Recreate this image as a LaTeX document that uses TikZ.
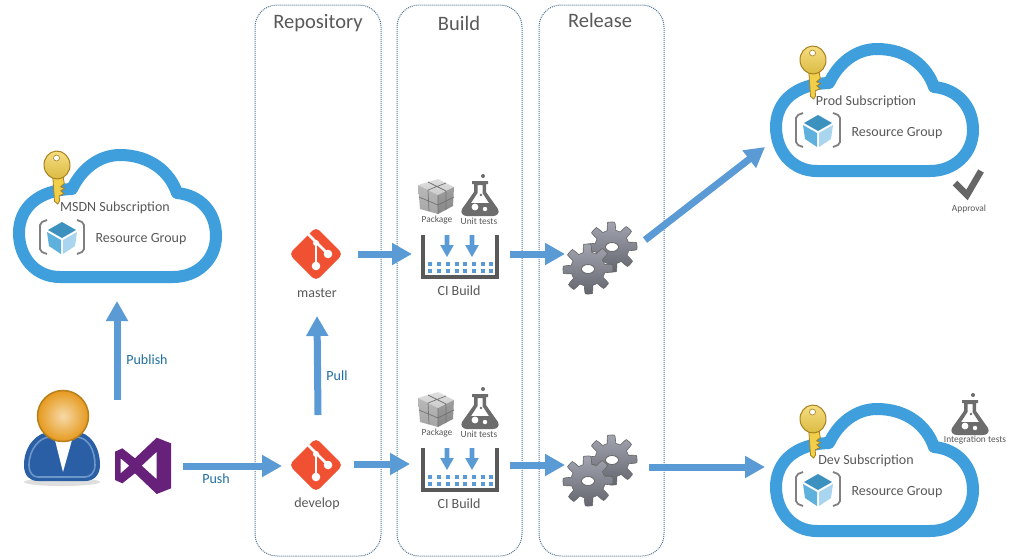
\documentclass[tikz,border=0pt]{standalone}
\usepackage{fontspec}
\setmainfont{Carlito}
\usetikzlibrary{arrows.meta}
\definecolor{flowblue}{HTML}{5B9BD5}
\definecolor{cloudblue}{HTML}{3F9FDC}
\definecolor{txtgray}{HTML}{595959}
\definecolor{lblblue}{HTML}{1F6F9F}
\definecolor{gitred}{HTML}{F05133}
\definecolor{vspurple}{HTML}{68217A}
\definecolor{panelline}{HTML}{4F7592}
\definecolor{gold}{HTML}{F2CF4A}
\definecolor{golddark}{HTML}{A8801E}
\definecolor{cubetop}{HTML}{3C91BF}
\definecolor{cubeleft}{HTML}{5DB1DC}
\definecolor{cuberight}{HTML}{A9D5EE}
\definecolor{suitdark}{HTML}{2A5FA5}
\definecolor{suitlight}{HTML}{6C97C8}
\definecolor{headhi}{HTML}{F6D9A8}
\definecolor{headlo}{HTML}{E69A1E}
\definecolor{headrim}{HTML}{B87F1A}
\definecolor{gearhi}{HTML}{A2A5B0}
\definecolor{gearlo}{HTML}{63656E}
\tikzset{
  flow/.style={draw=flowblue,line width=7pt,-{Triangle[length=20pt,width=21pt]}},
  anchorbox/.style={inner sep=0pt,outer sep=0pt,minimum width=#1},
  panel/.style={draw=panelline,densely dotted,line width=1pt,rounded corners=22pt},
  head/.style={font=\fontsize{20.5}{22}\selectfont,text=txtgray,yshift=-1.5pt},
  lbl/.style={font=\fontsize{14}{16}\selectfont,text=txtgray,yshift=-1.5pt},
  flowlbl/.style={font=\fontsize{14}{16}\selectfont,text=lblblue,yshift=-1pt},
  tiny/.style={font=\fontsize{9.4}{11}\selectfont,text=txtgray,yshift=-0.5pt},
  cloudp/.pic={
    \draw[cloudblue,line width=12pt,fill=white,line join=round]
      (60,277) .. controls (35,277) and (19,257) .. (19,233)
      .. controls (19,208) and (38,190) .. (72,189)
      .. controls (82,168) and (100,155) .. (120,155)
      .. controls (150,155) and (170,172) .. (177,193)
      .. controls (200,195) and (216,212) .. (216,236)
      .. controls (216,260) and (197,277) .. (173,277) -- cycle;
  },
  keyp/.pic={
    \begin{scope}[rotate=4]
    \fill[gold,draw=golddark,line width=0.8pt]
      (-5,10) -- (-5,36) -- (-2,39) -- (0,36) -- (0,31) -- (5,29) -- (2,26) -- (6,24) -- (2,22) -- (6,19) -- (5,10) -- cycle;
    \shade[top color=gold!70!white,bottom color=gold!90!black,draw=golddark,line width=1pt]
      (0,0) ellipse (13 and 14);
    \fill[white,draw=golddark,line width=0.6pt] (0,-7) circle (3);
    \end{scope}
  },
  rgp/.pic={
    \draw[gray,line width=1.8pt,line join=round] (-15,-17) -- (-20,-15) -- (-22,-12) -- (-22,12) -- (-20,15) -- (-15,17);
    \draw[gray,line width=1.8pt,line join=round] (15,-17) -- (20,-15) -- (22,-12) -- (22,12) -- (20,15) -- (15,17);
    \fill[cubetop] (0,-15) -- (14,-7) -- (0,1) -- (-14,-7) -- cycle;
    \fill[cubeleft] (-15,-5) -- (-1,3) -- (-1,17) -- (-13,9) -- cycle;
    \fill[cuberight] (15,-5) -- (1,3) -- (1,17) -- (13,9) -- cycle;
  },
  gitp/.pic={
    \fill[gitred,rounded corners=5pt] (0,-27) -- (27,0) -- (0,27) -- (-27,0) -- cycle;
    \draw[white,line width=2.8pt] (-8,-20) -- (12,0);
    \draw[white,line width=2.8pt] (0,-12) -- (0,12);
    \fill[white] (0,12) circle (4.3) (12,0) circle (4.3) (0,-11) circle (3);
  },
  gearp/.pic={
    \shade[top color=gearhi,bottom color=gearlo,draw=black!60,line width=0.6pt]
      plot[domain=0:360,samples=241] (\x:{21+4*min(1,max(-1,2.5*cos(8*\x+15)))})
      -- cycle;
    \fill[white,draw=black!60,line width=0.8pt] (0,0) ellipse (6.5 and 4.5);
  },
  flaskp/.pic={
    \fill[gray!85!black,even odd rule]
      (-8,-15) -- (8,-15) -- (8,-12) -- (6,-12) -- (6,-4) -- (18,13) .. controls (20,17) and (17,20) .. (13,20)
      -- (-13,20) .. controls (-17,20) and (-20,17) .. (-18,13) -- (-6,-4) -- (-6,-12) -- (-8,-12) -- cycle
      (-2.5,-11) -- (2.5,-11) -- (2.5,-3) -- (9,7) -- (-9,7) -- (-2.5,-3) -- cycle;
    \fill[white] (-5,11) circle (3.4) (5,13) circle (2.2);
    \fill[gray!85!black] (1,-1) circle (1.4) (3,-20) circle (2);
  },
  buildp/.pic={
    \shade[top color=gray!25,bottom color=gray!40] (418,185) -- (438,179) -- (454,187) -- (438,195) -- cycle;
    \shade[top color=gray!55,bottom color=gray!70] (418,185) -- (438,195) -- (438,214) -- (420,209) -- cycle;
    \shade[top color=gray!75,bottom color=gray!95] (438,195) -- (454,187) -- (453,206) -- (438,214) -- cycle;
    \draw[black!55,line width=0.7pt] (428,190) -- (429,211) (419,197) -- (438,205) -- (454,197) (438,195) -- (438,214) (446,191) -- (446,210) (428,182) -- (446,191) (446,183) -- (428,190);
    \node[tiny] at (437,219.5) {Package};
    \pic at (480,196) {flaskp};
    \node[tiny] at (479,221) {Unit tests};
    \draw[txtgray,line width=3.6pt,line join=miter] (423,235) -- (423,277) -- (497,277) -- (497,235);
    \foreach \yy in {264,271}{
      \foreach \xx in {430,439,448,457,465,474,483,491}{
        \fill[flowblue] (\xx-2.2,\yy-2.2) rectangle (\xx+2.2,\yy+2.2);
      }
    }
    \foreach \xx in {447,472}{
      \fill[flowblue] (\xx-2.4,235) -- (\xx+2.4,235) -- (\xx+2.4,245) -- (\xx+6.8,245) -- (\xx,257) -- (\xx-6.8,245) -- (\xx-2.4,245) -- cycle;
    }
    \node[lbl] at (459,289) {CI Build};
  }
}
\begin{document}
\begin{tikzpicture}[x=1pt,y=-1pt]
\useasboundingbox (0,0) rectangle (1024,558);
\fill[white] (0,0) rectangle (1024,558);

\draw[panel] (255,5) rectangle (381,556);
\draw[panel] (397,5) rectangle (522,556);
\draw[panel] (539,5) rectangle (664,556);
\node[head] (trepo) at (318,22) {Repository};
\node[head] (tbuild) at (459,22) {Build};
\node[head] (trel) at (600,19) {Release};

\pic at (0,0) {cloudp};
\pic at (757,-106) {cloudp};
\pic at (757,254) {cloudp};
\pic at (57,165) {keyp};
\pic at (813,60) {keyp};
\pic at (813,419) {keyp};
\pic at (62,237) {rgp};
\pic at (818,130) {rgp};
\pic at (818,489) {rgp};
\node[lbl] (t1) at (115,206) {MSDN Subscription};
\node[lbl] (t2) at (141,238) {Resource Group};
\node[lbl] (t3) at (866,100) {Prod Subscription};
\node[lbl] (t4) at (897,132) {Resource Group};
\node[lbl] (t5) at (866,459) {Dev Subscription};
\node[lbl] (t6) at (897,491) {Resource Group};

\draw[gray!80!black,line width=6.5pt,line join=miter] (955,183) -- (967,195) -- (981,171);
\node[tiny] (tapp) at (969,208) {Approval};
\pic at (970,415) {flaskp};
\node[tiny] (tint) at (975,440) {Integration tests};

\fill[black!25,opacity=.5] (62,482) ellipse (38 and 4);
\fill[suitdark] (24,465) .. controls (24,445) and (38,432) .. (50,432) -- (76,432) .. controls (90,432) and (100,447) .. (100,465)
  .. controls (100,476) and (93,481) .. (85,481) -- (38,481) .. controls (30,481) and (24,476) .. (24,465) -- cycle;
\draw[suitlight,line width=1.6pt] (29,465) .. controls (29,449) and (40,437) .. (50,437) -- (76,437) .. controls (88,437) and (95,450) .. (95,465)
  .. controls (95,473) and (90,477) .. (85,477) -- (38,477) .. controls (33,477) and (29,473) .. (29,465) -- cycle;
\fill[white] (55,440) -- (72,440) -- (63,472) -- cycle;
\shade[inner color=headhi,outer color=headlo,draw=headrim,line width=1.5pt] (63,416) circle (25.5);

\fill[vspurple,even odd rule]
  (156.7,437.7) -- (171,443.3) -- (171,488.3) -- (156.7,494) -- (135,473.3) -- (122.3,483.3) -- (115,480) -- (115,451.7) -- (122.3,448.3) -- (135,458.3) -- cycle
  (156.7,451.7) -- (156.7,479.3) -- (141.7,465.7) -- cycle
  (120.7,458.3) -- (129.3,465.7) -- (120.7,473.3) -- cycle;

\pic at (0,0) {buildp};
\pic at (0,213) {buildp};
\pic at (612,247) {gearp};
\pic at (588,269) {gearp};
\pic at (612,460) {gearp};
\pic at (588,481) {gearp};

\pic at (316,254) {gitp};
\pic at (316,465) {gitp};
\node[lbl] (tmaster) at (317,292) {master};
\node[lbl] (tdevelop) at (317,502) {develop};

\node[anchorbox=210,minimum height=170] (msdn) at (117,216) {};
\node[anchorbox=80,minimum height=40] (vs) at (143,466) {};
\node[anchorbox=72,minimum height=100] (develop) at (318,465) {};
\node[anchorbox=82,minimum height=124] (master) at (317,254) {};
\node[anchorbox=98,minimum height=40] (ci1) at (461,254) {};
\node[anchorbox=100,minimum height=40] (ci2) at (460,464) {};
\node[anchorbox=70,minimum height=40] (gears1) at (600,254) {};
\node[anchorbox=84,minimum height=40] (gears2) at (607,465) {};
\node[anchorbox=218,minimum height=40] (dev) at (874,467) {};
\coordinate (pubstart) at (117,400);
\coordinate (prodstart) at (645,240);
\coordinate (prodin) at (765,147);

\draw[flow] (pubstart) -- (msdn.south);
\draw[flow] (develop.north) -- (master.south);
\draw[flow] (vs.east) -- (vs.east -| develop.west);
\draw[flow] (master.east) -- (ci1.west);
\draw[flow] (develop.east |- ci2.west) -- (ci2.west);
\draw[flow] (ci2.east |- gears2.west) -- (gears2.west);
\draw[flow] (ci1.east) -- (gears1.west);
\draw[flow] (prodstart) -- (prodin);
\draw[flow] (gears2.east |- dev.west) -- (dev.west);

\node[flowlbl] (tpub) at (147,359) {Publish};
\node[flowlbl] (tpull) at (337,375) {Pull};
\node[flowlbl] (tpush) at (216,478) {Push};
\end{tikzpicture}
\end{document}
